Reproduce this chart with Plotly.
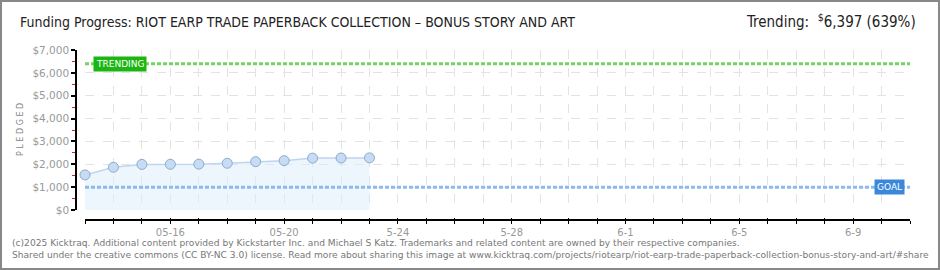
import plotly.graph_objects as go

# ---- data ----
dates = ["2025-05-13", "2025-05-14", "2025-05-15", "2025-05-16", "2025-05-17",
         "2025-05-18", "2025-05-19", "2025-05-20", "2025-05-21", "2025-05-22",
         "2025-05-23"]
pledged = [1535, 1870, 1995, 2000, 2005, 2045, 2115, 2160, 2270, 2275, 2280]

goal = 1000
trending = 6397
range_start = "2025-05-13"
range_end = "2025-06-11"

all_days = ["2025-05-%02d" % d for d in range(13, 32)] + ["2025-06-%02d" % d for d in range(1, 12)]
label_map = {"2025-05-16": "05-16", "2025-05-20": "05-20", "2025-05-24": "5-24",
             "2025-05-28": "5-28", "2025-06-01": "6-1", "2025-06-05": "6-5",
             "2025-06-09": "6-9"}
tick_text = [label_map.get(d, " ") for d in all_days]

y_tickvals = [0, 1000, 2000, 3000, 4000, 5000, 6000, 7000]
y_ticktext = ["$0", "$1,000", "$2,000", "$3,000", "$4,000", "$5,000", "$6,000", "$7,000"]

title_text = "Funding Progress: RIOT EARP TRADE PAPERBACK COLLECTION – BONUS STORY AND ART"
trend_text = "Trending:  <sup>$</sup>6,397 (639%)"
footer1 = ("(c)2025 Kicktraq. Additional content provided by Kickstarter Inc. and Michael S Katz. "
           "Trademarks and related content are owned by their respective companies.")
footer2 = ("Shared under the creative commons (CC BY-NC 3.0) license. Read more about sharing this image at "
           "www.kicktraq.com/projects/riotearp/riot-earp-trade-paperback-collection-bonus-story-and-art/#share")

# ---- geometry ----
W, H = 940, 270
ML, MR, MT, MB = 76, 30, 50, 50
PW = W - ML - MR
PH = H - MT - MB


def px(xp):
    return (xp - ML) / PW


def py(yp):
    return (H - MB - yp) / PH


fig = go.Figure()

fig.add_trace(go.Scatter(
    x=dates, y=pledged, mode="lines+markers", fill="tozeroy",
    fillcolor="rgba(222,236,252,0.55)",
    line=dict(color="#bcd5f0", width=1.5),
    marker=dict(size=10, color="#c6dcf5", line=dict(color="#8eaacb", width=1)),
    cliponaxis=False,
    hoverinfo="skip", showlegend=False,
))

fig.add_trace(go.Scatter(
    x=[range_start, range_end], y=[trending, trending], mode="lines",
    line=dict(color="#74d462", width=3, dash="4px,2px"),
    hoverinfo="skip", showlegend=False,
))
fig.add_trace(go.Scatter(
    x=[range_start, range_end], y=[goal, goal], mode="lines",
    line=dict(color="#8dbbe9", width=3, dash="4px,2px"),
    hoverinfo="skip", showlegend=False,
))
# invisible trace to host the secondary x axis (inner tick halves)
fig.add_trace(go.Scatter(
    x=[range_start], y=[0], xaxis="x2", mode="markers",
    marker=dict(opacity=0), hoverinfo="skip", showlegend=False,
))

grid = dict(showgrid=True, gridcolor="#e3e3e3", gridwidth=1, griddash="dash")

fig.update_layout(
    width=W, height=H,
    margin=dict(l=ML, r=MR, t=MT, b=MB),
    paper_bgcolor="white", plot_bgcolor="white",
    title=dict(text=title_text, x=20 / W, xanchor="left", y=1 - 22 / H, yanchor="middle",
               font=dict(family="DejaVu Sans Condensed, Liberation Sans Narrow, DejaVu Sans", size=14, color="#222")),
    xaxis=dict(
        type="date", range=[range_start, range_end], domain=[9 / PW, 1],
        anchor="free", position=0,
        tickmode="array", tickvals=all_days, ticktext=tick_text,
        ticks="outside", ticklen=3, tickcolor="#000", tickwidth=1,
        showline=True, linecolor="#000", linewidth=1.5,
        tickfont=dict(family="DejaVu Sans", size=10, color="#999"),
        zeroline=False, **grid,
    ),
    xaxis2=dict(
        type="date", range=[range_start, range_end], domain=[9 / PW, 1],
        overlaying="x", anchor="free", position=0,
        tickmode="array", tickvals=all_days,
        ticks="inside", ticklen=2, tickcolor="#000", tickwidth=1,
        showline=False, showgrid=False, zeroline=False, showticklabels=False,
    ),
    yaxis=dict(
        range=[0, 7000], domain=[10 / PH, 1], anchor="free", position=0,
        tickmode="array", tickvals=y_tickvals, ticktext=y_ticktext,
        ticks="outside", ticklen=4, tickcolor="#000", tickwidth=1.5,
        showline=True, linecolor="#000", linewidth=1.5,
        tickfont=dict(family="DejaVu Sans", size=10.5, color="#999"),
        minor=dict(dtick=500, tick0=0, ticks="outside", ticklen=3, tickcolor="#e02020",
                   tickwidth=1, showgrid=False),
        zeroline=False, **grid,
    ),
    showlegend=False,
)

annotations = [
    dict(text="TRENDING", x=range_start, y=trending, xref="x", yref="y",
         xanchor="left", yanchor="middle", xshift=8, showarrow=False,
         bgcolor="#1cb512", borderpad=2,
         font=dict(family="DejaVu Sans", size=9, color="white")),
    dict(text="GOAL", x=range_end, y=goal, xref="x", yref="y",
         xanchor="right", yanchor="middle", xshift=-5, showarrow=False,
         bgcolor="#3b88da", borderpad=2,
         font=dict(family="DejaVu Sans", size=9, color="white")),
    dict(text="P L E D G E D", x=px(20), y=py(130), xref="paper", yref="paper",
         textangle=-90, showarrow=False, xanchor="center", yanchor="middle",
         font=dict(family="DejaVu Sans", size=8, color="#888")),
    dict(text=trend_text, x=px(918), y=py(21), xref="paper", yref="paper",
         xanchor="right", yanchor="middle", showarrow=False,
         font=dict(family="DejaVu Sans Condensed, Liberation Sans Narrow, DejaVu Sans", size=15, color="#222")),
    dict(text=footer1, x=px(10), y=py(243), xref="paper", yref="paper",
         xanchor="left", yanchor="middle", showarrow=False,
         font=dict(family="DejaVu Sans", size=9.1, color="#777")),
    dict(text=footer2, x=px(10), y=py(255), xref="paper", yref="paper",
         xanchor="left", yanchor="middle", showarrow=False,
         font=dict(family="DejaVu Sans", size=9.1, color="#777")),
]
fig.update_layout(annotations=annotations)

fig.add_shape(type="rect", xref="paper", yref="paper",
              x0=px(1), x1=px(W - 1), y0=py(H - 1), y1=py(1),
              line=dict(color="#888", width=2), fillcolor="rgba(0,0,0,0)", layer="above")

fig.write_html("out.html")
